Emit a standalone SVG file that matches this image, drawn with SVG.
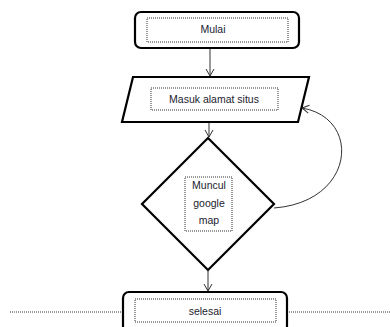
<svg xmlns="http://www.w3.org/2000/svg" width="390" height="327" viewBox="0 0 390 327">
<defs>
<marker id="arr" markerWidth="10" markerHeight="10" refX="8" refY="5" orient="auto" markerUnits="userSpaceOnUse">
<path d="M1,1 L8,5 L1,9" fill="none" stroke="#333" stroke-width="1"/>
</marker>
<style>
.shape{fill:#fff;stroke:#000;stroke-width:2.2}
.inner{fill:none;stroke:#333;stroke-width:1;stroke-dasharray:1 1}
.lbl{font-family:"Liberation Sans",Arial,sans-serif;font-size:10.5px;fill:#1a1a2e;text-anchor:middle}
.con{fill:none;stroke:#333;stroke-width:1}
</style>
</defs>
<rect width="390" height="327" fill="#fff"/>
<line x1="10" y1="312" x2="123" y2="312" class="inner"/>
<line x1="287" y1="312" x2="390" y2="312" class="inner"/>
<g id="connectors">
<line x1="210" y1="49" x2="210" y2="76" class="con" marker-end="url(#arr)"/>
<line x1="209" y1="123" x2="209" y2="137" class="con" marker-end="url(#arr)"/>
<line x1="208" y1="271" x2="208" y2="291" class="con" marker-end="url(#arr)"/>
<path d="M274,208 C355,202 362,118 302,108" class="con" marker-end="url(#arr)"/>
</g>
<g id="mulai">
<rect x="135" y="12" width="164" height="36" rx="6" class="shape"/>
<rect x="147" y="18" width="141" height="24" class="inner"/>
<text x="213" y="33" class="lbl">Mulai</text>
</g>
<g id="masuk">
<polygon points="133,77 309,77 298,122 122,122" class="shape"/>
<rect x="151" y="88" width="127" height="22" class="inner"/>
<text x="214" y="103" class="lbl">Masuk alamat situs</text>
</g>
<g id="muncul">
<polygon points="208,138 274,204 208,270 142,204" class="shape"/>
<rect x="185" y="177" width="47" height="54" class="inner"/>
<text x="209" y="189" class="lbl">Muncul</text>
<text x="209" y="207" class="lbl">google</text>
<text x="209" y="224" class="lbl">map</text>
</g>
<g id="selesai">
<rect x="123" y="292" width="164" height="40" rx="6" class="shape"/>
<rect x="135" y="299" width="141" height="23" class="inner"/>
<text x="205" y="315" class="lbl">selesai</text>
</g>
</svg>
